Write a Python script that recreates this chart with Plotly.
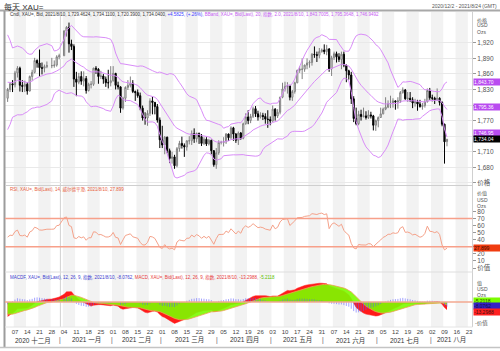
import numpy as np
import pandas as pd
import plotly.graph_objects as go

# ---------------- data ----------------
# closes before the visible window (Sep 1 - Dec 1 2020), only used to warm up the indicators
warmup_close = [
    1970, 1944, 1931, 1934, 1931, 1931, 1946, 1946, 1941, 1956, 1954, 1959, 1944, 1950, 1912, 1900, 1863, 1868, 1862, 1881, 1897, 1887,
    1906, 1900, 1913, 1877, 1887, 1893, 1930, 1922, 1892, 1902, 1908, 1900, 1905, 1907, 1924, 1904, 1902, 1902, 1907, 1878, 1868, 1879,
    1894, 1908, 1904, 1948, 1951, 1862, 1877, 1866, 1873, 1887, 1888, 1881, 1872, 1866, 1871, 1837, 1806, 1811, 1812, 1788, 1776,
    1815,
]

opens = [
    1813, 1830, 1841, 1839, 1862, 1871, 1838, 1836, 1840, 1827, 1855, 1863, 1886, 1881, 1872, 1871, 1874, 1876, 1876, 1877, 1893,
    1895, 1943, 1950, 1918, 1913, 1850, 1844, 1855, 1846, 1851, 1828, 1840, 1840, 1871, 1869, 1855, 1856, 1850, 1843, 1843,
    1847, 1861, 1838, 1835, 1794, 1813, 1834, 1838, 1842, 1826, 1824, 1818, 1794, 1775, 1775, 1784, 1808, 1805, 1797, 1771,
    1733, 1723, 1738, 1712, 1697, 1700, 1683, 1716, 1726, 1722, 1719, 1731, 1731, 1745, 1735, 1745, 1739, 1726, 1734, 1725, 1732, 1712, 1685,
    1708, 1728, 1728, 1729, 1744, 1737, 1756, 1744, 1732, 1746, 1736, 1764, 1777, 1770, 1778, 1793, 1783, 1777, 1780, 1778, 1773, 1772,
    1769, 1792, 1779, 1786, 1815, 1831, 1836, 1837, 1815, 1826, 1843, 1867, 1869, 1869, 1877, 1881, 1882, 1898, 1897, 1896, 1903,
    1906, 1903, 1908, 1870, 1891, 1899, 1893, 1888, 1898, 1877, 1866, 1858, 1812, 1774, 1764, 1782, 1778, 1779, 1776, 1781, 1779, 1761,
    1770, 1776, 1783, 1792, 1796, 1803, 1803, 1808, 1806, 1808, 1824, 1829, 1812, 1813, 1810, 1804, 1806, 1802, 1797, 1799, 1806, 1828,
    1814, 1813, 1810, 1813, 1805, 1763, 1729.46,
]
highs = [
    1833, 1844, 1848, 1866, 1875, 1874, 1848, 1847, 1844, 1857, 1868, 1891, 1888, 1907, 1882, 1878, 1884, 1891, 1886, 1896, 1899,
    1944, 1952, 1959, 1926, 1917, 1864, 1862, 1865, 1865, 1856, 1843, 1846, 1872, 1875, 1871, 1866, 1860, 1855, 1868, 1875,
    1875, 1862, 1845, 1836, 1816, 1836, 1848, 1855, 1848, 1828, 1830, 1824, 1799, 1786, 1790, 1813, 1816, 1806, 1802, 1776,
    1760, 1740, 1739, 1716, 1710, 1704, 1719, 1731, 1739, 1726, 1732, 1740, 1751, 1755, 1747, 1747, 1744, 1738, 1738, 1735, 1733, 1713, 1717,
    1732, 1731, 1738, 1746, 1745, 1759, 1758, 1746, 1749, 1748, 1766, 1784, 1790, 1783, 1797, 1798, 1789, 1786, 1785, 1784, 1790, 1778,
    1799, 1794, 1792, 1816, 1843, 1845, 1844, 1839, 1829, 1845, 1868, 1875, 1890, 1878, 1890, 1886, 1900, 1913, 1903, 1910, 1909,
    1917, 1916, 1910, 1895, 1903, 1903, 1900, 1903, 1903, 1878, 1868, 1864, 1817, 1795, 1789, 1791, 1795, 1788, 1790, 1787, 1781, 1772,
    1778, 1795, 1795, 1815, 1809, 1818, 1813, 1809, 1815, 1827, 1834, 1831, 1825, 1825, 1815, 1812, 1810, 1810, 1804, 1812, 1832, 1833,
    1820, 1816, 1832, 1815, 1807, 1764, 1734.11,
]
lows = [
    1806, 1825, 1825, 1834, 1853, 1826, 1825, 1825, 1820, 1826, 1847, 1861, 1872, 1855, 1859, 1863, 1871, 1871, 1872, 1874, 1888,
    1895, 1932, 1901, 1906, 1835, 1817, 1840, 1839, 1836, 1822, 1826, 1832, 1837, 1860, 1841, 1850, 1841, 1835, 1832, 1836,
    1845, 1830, 1830, 1785, 1791, 1806, 1829, 1834, 1823, 1808, 1814, 1790, 1770, 1762, 1760, 1779, 1782, 1782, 1766, 1717,
    1717, 1705, 1707, 1688, 1687, 1677, 1680, 1710, 1716, 1700, 1712, 1724, 1723, 1727, 1728, 1725, 1721, 1723, 1721, 1722, 1705, 1681, 1677,
    1704, 1724, 1720, 1725, 1731, 1734, 1731, 1727, 1723, 1733, 1734, 1762, 1763, 1765, 1775, 1777, 1770, 1774, 1771, 1764, 1756, 1761,
    1768, 1770, 1775, 1782, 1813, 1826, 1822, 1809, 1808, 1822, 1842, 1862, 1850, 1864, 1869, 1872, 1876, 1891, 1883, 1890, 1901,
    1898, 1896, 1864, 1856, 1887, 1882, 1883, 1869, 1873, 1844, 1849, 1802, 1767, 1761, 1761, 1770, 1776, 1772, 1773, 1774, 1751, 1750,
    1757, 1775, 1782, 1790, 1794, 1794, 1795, 1791, 1793, 1804, 1822, 1810, 1806, 1806, 1794, 1797, 1789, 1795, 1791, 1795, 1805, 1810,
    1807, 1802, 1808, 1799, 1759, 1687, 1720.39,
]
closes = [
    1830, 1841, 1839, 1862, 1871, 1838, 1836, 1840, 1827, 1855, 1863, 1886, 1881, 1872, 1871, 1874, 1876, 1876, 1877, 1893, 1895,
    1943, 1950, 1918, 1913, 1850, 1844, 1855, 1846, 1851, 1828, 1840, 1840, 1871, 1869, 1855, 1856, 1850, 1843, 1843, 1847,
    1861, 1838, 1835, 1794, 1813, 1834, 1838, 1842, 1826, 1824, 1818, 1794, 1775, 1775, 1784, 1808, 1805, 1797, 1771, 1733,
    1723, 1738, 1712, 1697, 1700, 1683, 1716, 1726, 1722, 1719, 1731, 1731, 1745, 1735, 1745, 1739, 1726, 1734, 1725, 1732, 1712, 1685, 1708,
    1728, 1728, 1729, 1744, 1737, 1756, 1744, 1732, 1746, 1736, 1764, 1777, 1770, 1778, 1793, 1783, 1777, 1780, 1778, 1773, 1772, 1769,
    1792, 1779, 1786, 1815, 1831, 1836, 1837, 1815, 1826, 1843, 1867, 1869, 1869, 1877, 1881, 1882, 1898, 1897, 1896, 1903, 1906,
    1903, 1908, 1870, 1891, 1899, 1893, 1888, 1898, 1877, 1866, 1858, 1812, 1774, 1764, 1782, 1778, 1779, 1776, 1781, 1779, 1761, 1770,
    1776, 1783, 1792, 1796, 1803, 1803, 1808, 1806, 1808, 1824, 1829, 1812, 1813, 1810, 1804, 1806, 1802, 1797, 1799, 1806, 1828, 1814,
    1813, 1810, 1813, 1805, 1763, 1729, 1734.04,
]

first_day = "2020-12-02"
last_day = "2021-08-10"
axis_end_day = "2021-08-27"
market_holidays = ["2020-12-25", "2021-01-01"]

month_names = ["2020 十二月", "2021 一月", "2021 二月", "2021 三月", "2021 四月",
               "2021 五月", "2021 六月", "2021 七月", "2021 八月"]

title_text = "每天 XAU="
date_range_text = "2020/12/2 - 2021/8/24 (GMT)"
cndl_info = "Cndl, XAU=, Bid, 2021/8/10, 1,729.4624, 1,734.1100, 1,720.3900, 1,734.0400, "
chg_info = "+4.5825, (+.26%), "
bb_info = "BBand, XAU=, Bid(Last), 20, 指数, 2.0, 2021/8/10, 1,843.7005, 1,795.3648, 1,746.9492"
rsi_info = "RSI, XAU=, Bid(Last), 14, 威尔德平滑, 2021/8/10, 27.899"
macdf_info = "MACDF, XAU=, Bid(Last), 12, 26, 9, 指数, 2021/8/10, -8.0762, "
macd_info = "MACD, XAU=, Bid(Last), 12, 26, 9, 指数, 2021/8/10, -13.2988, "
sig_info = "-5.2118"

band_last = [1843.7005, 1795.3648, 1746.9492]
band_last_text = ["1,843.70", "1,795.36", "1,746.95"]
close_last = 1734.04
close_last_text = "1,734.04"
rsi_last_text = "27.899"
rsi_last = 27.899
macd_box_text = ["-5.2118", "-8.0762", "-13.2988"]

# labels hidden behind the value boxes in the reference are left blank
price_ticks = [1650, 1680, 1710, 1740, 1770, 1800, 1830, 1860, 1890, 1920]
price_tick_text = ["价格", "1,680", "1,710", "", "1,770", "", "1,830", "1,860", "1,890", "1,920"]
rsi_ticks = [0, 10, 20, 30, 40, 50, 60, 70, 80]
rsi_tick_text = ["价值", "10", "20", "", "40", "50", "60", "70", "80"]

# ---------------- positions on the trading-day axis ----------------
slots = pd.bdate_range(first_day, axis_end_day)
pos = pd.Series(np.arange(len(slots)), index=slots)
dates = slots[(slots <= last_day) & ~slots.isin(pd.to_datetime(market_holidays))]
assert len(dates) == len(closes) == len(opens) == len(highs) == len(lows)
xs = pos[dates].values.astype(float)

# ---------------- indicators ----------------
allc = pd.Series(warmup_close + closes, dtype=float)
nw = len(warmup_close)
mid = allc.ewm(span=20, adjust=False).mean()
sd = allc.rolling(20).std(ddof=0)
bb_up = (mid + 2 * sd).values[nw:]
bb_lo = (mid - 2 * sd).values[nw:]
bb_mid = mid.values[nw:]

d = allc.diff()
g = d.clip(lower=0).ewm(alpha=1 / 14, adjust=False).mean()
l_ = (-d.clip(upper=0)).ewm(alpha=1 / 14, adjust=False).mean()
rsi = (100 - 100 / (1 + g / l_)).values[nw:]

macd_s = allc.ewm(span=12, adjust=False).mean() - allc.ewm(span=26, adjust=False).mean()
sig_s = macd_s.ewm(span=9, adjust=False).mean()
macd = macd_s.values[nw:]
sig = sig_s.values[nw:]
hist = macd - sig

# ---------------- pixel helpers ----------------
W, H = 500, 351
ML, MR, MT, MB = 5, 28, 12, 24
PW, PH = W - ML - MR, H - MT - MB


def px(X):
    return (X - ML) / PW


def py(Y):
    return (H - MB - Y) / PH


FONT = "Liberation Sans, Noto Sans CJK SC, sans-serif"
X0, X1 = -1.07, 189.2
BAND_C = "#d98cf8"

fig = go.Figure()

# candles
fig.add_trace(go.Candlestick(
    x=xs, open=opens, high=highs, low=lows, close=closes, xaxis="x", yaxis="y",
    increasing=dict(line=dict(color="#808080", width=1), fillcolor="#ffffff"),
    decreasing=dict(line=dict(color="#000000", width=1), fillcolor="#000000"),
    whiskerwidth=0, showlegend=False, hoverinfo="skip"))
for band in (bb_up, bb_mid, bb_lo):
    fig.add_trace(go.Scatter(x=xs, y=band, mode="lines", line=dict(color=BAND_C, width=1),
                             xaxis="x", yaxis="y", showlegend=False, hoverinfo="skip"))

# RSI
fig.add_trace(go.Scatter(x=xs, y=rsi, mode="lines", line=dict(color="#f5a28a", width=1),
                         xaxis="x", yaxis="y2", showlegend=False, hoverinfo="skip"))

# MACD
fig.add_trace(go.Scatter(x=xs, y=macd, mode="lines", fill="tozeroy", fillcolor="#ff1a1a",
                         line=dict(color="#ff1a1a", width=0.5), xaxis="x", yaxis="y3",
                         showlegend=False, hoverinfo="skip"))
fig.add_trace(go.Scatter(x=xs, y=sig, mode="lines", fill="tozeroy", fillcolor="rgba(124,252,0,0.9)",
                         line=dict(color="#f0a050", width=0.8), xaxis="x", yaxis="y3",
                         showlegend=False, hoverinfo="skip"))
hx, hy = [], []
for xi, hi in zip(xs, hist):
    hx += [xi, xi, None]
    hy += [0, hi, None]
fig.add_trace(go.Scatter(x=hx, y=hy, mode="lines", line=dict(color="rgba(90,90,255,0.55)", width=1),
                         xaxis="x", yaxis="y3", showlegend=False, hoverinfo="skip"))

# ---------------- shapes ----------------
shapes = []
k = 2.5
while k < X1:
    shapes.append(dict(type="rect", xref="x", yref="paper", x0=k, x1=min(k + 5, X1), y0=0, y1=1,
                       fillcolor="#f2f2f2", line=dict(width=0), layer="below"))
    k += 10
# year boundary
shapes.append(dict(type="line", xref="x", yref="paper", x0=21.5, x1=21.5, y0=0, y1=1,
                   line=dict(color="#d2d2d2", width=1), layer="below"))
# frame lines
shapes += [
    dict(type="line", xref="paper", yref="paper", x0=px(0), x1=px(500), y0=py(10.5), y1=py(10.5),
         line=dict(color="#a8a8a8", width=2)),
    dict(type="line", xref="paper", yref="paper", x0=px(4.5), x1=px(4.5), y0=py(11), y1=py(348),
         line=dict(color="#9c9c9c", width=2)),
    dict(type="line", xref="paper", yref="paper", x0=px(0), x1=px(500), y0=py(347.5), y1=py(347.5),
         line=dict(color="#c4c4c4", width=1.5)),
    dict(type="line", xref="paper", yref="paper", x0=px(472.5), x1=px(472.5), y0=py(11), y1=py(327),
         line=dict(color="#d0d0d0", width=1)),
    dict(type="line", xref="paper", yref="paper", x0=0, x1=px(472.5), y0=py(185.5), y1=py(185.5),
         line=dict(color="#cfcfcf", width=1)),
    dict(type="line", xref="paper", yref="paper", x0=0, x1=px(472.5), y0=py(272), y1=py(272),
         line=dict(color="#dedede", width=1)),
    dict(type="line", xref="paper", yref="paper", x0=0, x1=px(472.5), y0=py(327), y1=py(327),
         line=dict(color="#e4e4e4", width=1)),
]
for lvl in (70, 30):
    shapes.append(dict(type="line", xref="paper", yref="y2", x0=0, x1=px(472.5), y0=lvl, y1=lvl,
                       line=dict(color="#f7a08a", width=1.5)))
shapes.append(dict(type="line", xref="paper", yref="y3", x0=0, x1=px(472.5), y0=0, y1=0,
                   line=dict(color="#f3a890", width=1.5)))

# ---------------- annotations ----------------
ann = []


def txt(X, Y, s, size=5, color="#333", xanchor="left", **kw):
    ann.append(dict(x=px(X), y=py(Y), xref="paper", yref="paper", text=s, showarrow=False,
                    xanchor=xanchor, yanchor="middle", font=dict(size=size, color=color, family=FONT), **kw))


txt(2, 6.5, title_text, size=8, color="#333")
txt(499, 6, date_range_text, size=5, color="#555", xanchor="right")
txt(8, 15, cndl_info + f'<span style="color:#3a3aff">{chg_info}</span>'
    + f'<span style="color:#c65cf2">{bb_info}</span>', size=4.5, color="#333")
txt(8, 189.5, rsi_info, size=4.5, color="#e8603c")
txt(8, 277, f'<span style="color:#4040d0">{macdf_info}</span>'
    + f'<span style="color:#e83a3a">{macd_info}</span>'
    + f'<span style="color:#5cc000">{sig_info}</span>', size=4.5, color="#333")

for Y, s in ((20, "价格"), (25.5, "USD"), (32, "Ozs"), (194, "价值"), (200, "USD"), (205.5, "Ozs"),
             (283, "值"), (288.5, "USD"), (294.5, "Ozs")):
    txt(475, Y, s, size=5, color="#555")
txt(473, 323, "-价值", size=5.5, color="#555")

# month labels and separators
month_first = pd.Series(slots).groupby([slots.year, slots.month]).first().values
bounds = [X0] + [pos[pd.Timestamp(dd)] - 0.5 for dd in month_first[1:]]
bounds = [b for b in bounds if b < X1] + [X1]
for i, name in enumerate(month_names):
    c = (bounds[i] + bounds[i + 1]) / 2
    ann.append(dict(x=c, y=py(340), xref="x", yref="paper", text=name, showarrow=False,
                    xanchor="center", yanchor="middle", font=dict(size=6.5, color="#333", family=FONT)))
for b in bounds[1:-1]:
    ann.append(dict(x=b, y=py(340), xref="x", yref="paper", text="|", showarrow=False,
                    xanchor="center", yanchor="middle", font=dict(size=6.5, color="#555", family=FONT)))


def box(yref, yval, s, bg, fc, Ypx=None):
    a = dict(x=px(473), xref="paper", xanchor="left", yanchor="middle", text=s, showarrow=False,
             bgcolor=bg, borderpad=0, width=26, height=6, align="left",
             font=dict(size=5, color=fc, family=FONT))
    if Ypx is None:
        a.update(y=yval, yref=yref)
    else:
        a.update(y=py(Ypx), yref="paper")
    ann.append(a)


for v, s in zip(band_last, band_last_text):
    box("y", v, s, "#b94cf0", "#ffffff")
box("y", close_last, close_last_text, "#000000", "#ffffff")
box("y2", rsi_last, rsi_last_text, "#f03c10", "#3a0a00")
box(None, None, macd_box_text[0], "#7cfc00", "#2c4a00", Ypx=300.5)
box(None, None, macd_box_text[1], "#3520c8", "#10103a", Ypx=306)
box(None, None, macd_box_text[2], "#ff2020", "#401010", Ypx=311.5)

mondays = [dd for dd in slots if dd.weekday() == 0]
fig.update_layout(
    width=W, height=H, margin=dict(l=ML, r=MR, t=MT, b=MB),
    paper_bgcolor="#ffffff", plot_bgcolor="rgba(0,0,0,0)",
    showlegend=False, shapes=shapes, annotations=ann,
    font=dict(family=FONT, color="#444"),
    xaxis=dict(domain=[0, 1], range=[X0, X1], anchor="y3", tickmode="array",
               tickvals=[pos[dd] for dd in mondays], ticktext=[dd.strftime("%d") for dd in mondays],
               tickfont=dict(size=6, color="#444"), showgrid=False, zeroline=False, showline=False,
               ticks="", rangeslider=dict(visible=False), fixedrange=True),
    yaxis=dict(domain=[py(185.5), 1], range=[1644.8, 1979.4], side="right", anchor="x",
               tickmode="array", tickvals=price_ticks, ticktext=price_tick_text,
               showgrid=True, gridcolor="#e9e9e9", gridwidth=1, zeroline=False,
               ticks="outside", ticklen=3, tickcolor="#999", tickfont=dict(size=6.5, color="#555")),
    yaxis2=dict(domain=[py(272), py(185.5)], range=[-5.6, 116.9], side="right", anchor="x",
                tickmode="array", tickvals=rsi_ticks, ticktext=rsi_tick_text, showgrid=False,
                zeroline=False, ticks="outside", ticklen=3, tickcolor="#999",
                tickfont=dict(size=6.5, color="#555")),
    yaxis3=dict(domain=[0, py(272)], range=[-43.1, 51.7], side="right", anchor="x",
                showticklabels=False, showgrid=False, zeroline=False, ticks=""),
)

fig.write_html("out.html")
